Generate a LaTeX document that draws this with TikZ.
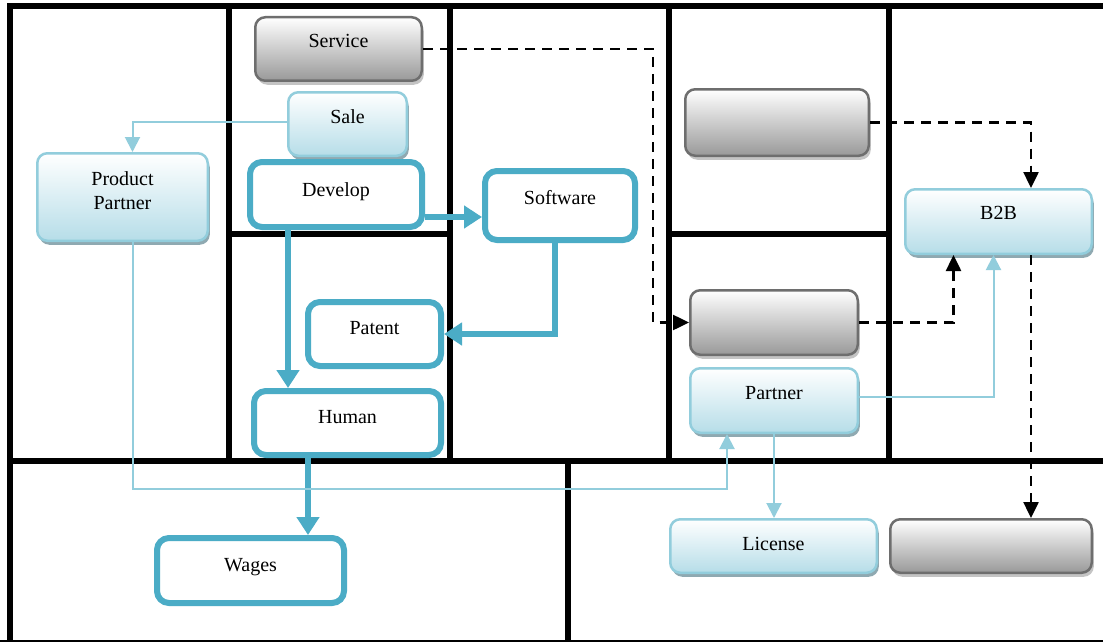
\documentclass[tikz,border=0pt]{standalone}
\usepackage{fontspec}
\setmainfont{Liberation Serif}
\usetikzlibrary{arrows.meta,shadows,calc}

\definecolor{teal}{HTML}{4BACC6}
\definecolor{paleedge}{HTML}{92CDDC}
\definecolor{palefill}{HTML}{B6DDE8}
\definecolor{paleshadow}{HTML}{8FA9B1}
\definecolor{greyedge}{HTML}{6E6E6E}
\definecolor{greyfill}{HTML}{999999}
\definecolor{greyshadow}{HTML}{C4C4C4}

\tikzset{
  grid/.style={line width=6pt, black},
  label/.style={font=\fontsize{20}{24}\selectfont, align=center,
    text height=14pt, text depth=13pt},
  palebox/.style={label, draw=paleedge, line width=2.5pt, rounded corners=10pt,
    top color=white, bottom color=palefill,
    drop shadow={shadow xshift=2pt, shadow yshift=-4pt, fill=paleshadow, opacity=1}},
  greybox/.style={label, draw=greyedge, line width=2.5pt, rounded corners=10pt,
    top color=white, bottom color=greyfill,
    drop shadow={shadow xshift=2pt, shadow yshift=-4pt, fill=greyshadow, opacity=1}},
  tealbox/.style={label, draw=teal, line width=6pt, rounded corners=12pt, fill=white},
  tealarrow/.style={draw=teal, line width=5.5pt, -{Triangle[length=18pt 0 0,width=22pt 0 0]}},
  palearrow/.style={draw=paleedge, line width=2pt, -{Triangle[length=15pt 0 0,width=15pt 0 0]}},
  darkarrow/.style={draw=black, line width=2.5pt, dash pattern=on 10pt off 7pt,
    -{Triangle[length=16pt 0 0,width=15pt 0 0]}},
}

\begin{document}
\begin{tikzpicture}[x=1pt, y=-1pt]
\useasboundingbox (0,0) rectangle (1103,642);
\fill[white] (0,0) rectangle (1103,642);

% canvas grid
\draw[grid] (10,645) -- (10,6) -- (1106,6);
\draw[grid] (7,461) -- (1106,461);
\draw[grid] (-3,643) -- (1106,643);
\draw[grid] (229,6) -- (229,461);
\draw[grid] (450,6) -- (450,461);
\draw[grid] (669,6) -- (669,461);
\draw[grid] (889,6) -- (889,461);
\draw[grid] (568,461) -- (568,643);
\draw[grid] (229,234) -- (450,234);
\draw[grid] (669,234) -- (889,234);

% boxes
\node[greybox, minimum width=166.5pt, minimum height=63.5pt, text depth=17pt] (service) at (338.5,49) {Service};
\node[palebox, minimum width=118.5pt, minimum height=63.5pt, text depth=16pt] (sale) at (347.5,124) {Sale};
\node[palebox, minimum width=170.5pt, minimum height=87.5pt, text height=26pt, text depth=1pt] (pp) at (122.5,197) {Product\\Partner};
\node[tealbox, minimum width=172pt, minimum height=65pt, text depth=10pt] (develop) at (336,194.5) {Develop};
\node[tealbox, minimum width=150pt, minimum height=69pt, text depth=16pt] (software) at (560,205.5) {Software};
\node[tealbox, minimum width=133pt, minimum height=64pt] (patent) at (374.5,334) {Patent};
\node[tealbox, minimum width=187pt, minimum height=64pt] (human) at (347.5,423) {Human};
\node[tealbox, minimum width=187pt, minimum height=65pt, text depth=12pt] (wages) at (250.5,570.5) {Wages};
\node[greybox, minimum width=183.5pt, minimum height=66.5pt] (grey1) at (777,122.5) {};
\node[palebox, minimum width=186.5pt, minimum height=64.5pt, text depth=18pt] (b2b) at (998.5,221.5) {B2B};
\node[greybox, minimum width=167.5pt, minimum height=64.5pt] (grey2) at (774,322.5) {};
\node[palebox, minimum width=167.5pt, minimum height=64.5pt, text depth=16pt] (partner) at (774,400.5) {Partner};
\node[palebox, minimum width=206.5pt, minimum height=53.5pt, text depth=5pt] (license) at (773.5,546) {License};
\node[greybox, minimum width=201.5pt, minimum height=53.5pt] (grey3) at (991,546) {};

% bend points
\coordinate (dv) at ($(develop.south)+(-48,0)$);
\coordinate (dh) at ($(develop.east)+(0,22.5)$);
\coordinate (sw) at ($(software.south)+(-5,0)$);
\coordinate (hu) at ($(human.south)+(-39.5,0)$);
\coordinate (pt) at ($(pp.north)+(10,0)$);
\coordinate (pb) at ($(pp.south)+(10,0)$);
\coordinate (low) at (0,489);
\coordinate (pa) at ($(partner.south)+(-47,0)$);
\coordinate (pe) at ($(partner.east)+(0,-3.5)$);
\coordinate (bl) at ($(b2b.south)+(-45,0)$);
\coordinate (bm) at ($(b2b.south)+(-5,0)$);
\coordinate (bn) at ($(b2b.north)+(32.5,0)$);
\coordinate (bs) at ($(b2b.south)+(32.5,0)$);
\coordinate (sr) at (653,0);

% thick flows
\draw[tealarrow] (dh) -- (dh -| software.west);
\draw[tealarrow] (dv) -- (dv |- human.north);
\draw[tealarrow] (sw) |- (patent.east);
\draw[tealarrow] (hu) -- (hu |- wages.north);

% light flows
\draw[palearrow] ($(sale.west)+(0,-2)$) -| (pt);
\draw[palearrow] (pb) -- (pb |- low) -| (pa);
\draw[palearrow] (pe) -| (bm);
\draw[palearrow] (partner.south) -- (partner.south |- license.north);

% dashed flows
\draw[darkarrow] (service.east) -- (service.east -| sr) |- (grey2.west);
\draw[darkarrow] (grey1.east) -| (bn);
\draw[darkarrow] (grey2.east) -| (bl);
\draw[darkarrow] (bs) -- (bs |- grey3.north);
\end{tikzpicture}
\end{document}
